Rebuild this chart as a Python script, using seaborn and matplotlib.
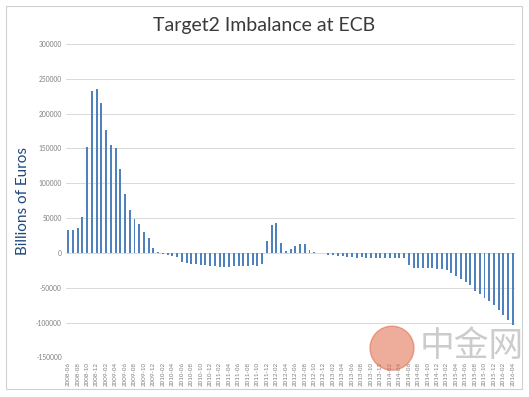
import pandas as pd
import numpy as np
import seaborn as sns
import matplotlib
matplotlib.use('Agg')
import matplotlib.pyplot as plt
from matplotlib.patches import Rectangle, Ellipse

# monthly Target2 balance, 2008-06 .. 2016-04
months = pd.period_range('2008-06', '2016-04', freq='M').strftime('%Y-%m').tolist()
values = [33000, 33000, 35500, 51000, 152000, 233000, 236000, 215000, 177000, 155000,
          150000, 121000, 85000, 61000, 49000, 42000, 30000, 21000, 7000, 1500,
          -1900, -2900, -4300, -6200, -12500, -14800, -15800, -16300, -17200, -17200,
          -18000, -18000, -19600, -19600, -19600, -19000, -18500, -18500, -18500, -17500,
          -18700, -16300, 17700, 40200, 43600, 14900, 3400, 5700, 10000, 13000,
          12400, 4300, 800, 500, 300, -2900, -3500, -4000, -4500, -5300,
          -5300, -6700, -5500, -6700, -7000, -6500, -7000, -6500, -6500, -6500,
          -6500, -7000, -17000, -21500, -21000, -21000, -21500, -22000, -22500, -23000,
          -25000, -28000, -33000, -37000, -41000, -46000, -54000, -59000, -64000, -69000,
          -75000, -82000, -88500, -95500, -104000]
yticks = list(range(-150000, 300001, 50000))

df = pd.DataFrame({'month': months, 'value': values})

sns.set_style('white')
plt.rcParams['font.family'] = ['Lato', 'DejaVu Sans']

fig = plt.figure(figsize=(5.29, 3.97), dpi=100)
ax = fig.add_axes([0.1246, 0.0995, 0.8494, 0.7897])

sns.barplot(data=df, x='month', y='value', color='#4F81BD', saturation=1,
            width=0.42, linewidth=0, ax=ax)

ax.set_ylim(-150000, 300000)
ax.set_xlim(-0.5, len(months) - 0.5)
ax.set_yticks(yticks)
ax.set_yticklabels([str(t) for t in yticks], fontsize=4.8, color='#7F7F7F')
ax.set_xticks(range(0, len(months), 2))
ax.set_xticklabels(months[::2], rotation=90, fontsize=4.5, color='#7F7F7F')
ax.tick_params(length=0, pad=3)
ax.yaxis.grid(True, color='#D9D9D9', linewidth=0.7)
ax.set_axisbelow(True)
for s in ax.spines.values():
    s.set_visible(False)
ax.set_xlabel('')
ax.set_ylabel('Billions of Euros', fontsize=11, color='#1F497D', labelpad=4)

fig.text(0.5, 0.935, 'Target2 Imbalance at ECB', ha='center', va='center',
         fontsize=14, color='#3A3A3A')

# chart frame
fig.patches.append(Rectangle((0.012, 0.02), 0.975, 0.965, transform=fig.transFigure,
                             fill=False, edgecolor='#D0D0D0', linewidth=0.8))

# watermark
fig.patches.append(Ellipse((0.741, 0.123), 44 / 529, 44 / 397, transform=fig.transFigure,
                           color='#E06848', alpha=0.55))
fig.text(0.892, 0.126, '中金网', ha='center', va='center', fontsize=25,
         color='#C4C4C4', alpha=0.85, family=['Noto Sans CJK SC', 'DejaVu Sans'])

fig.savefig('out.png', dpi=100)
